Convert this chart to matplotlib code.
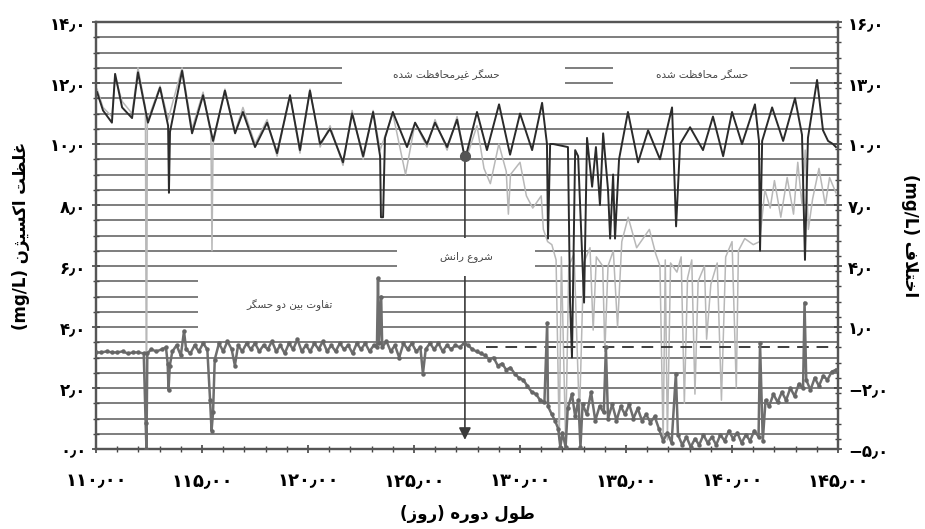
import matplotlib
matplotlib.use('Agg')
import matplotlib.pyplot as plt
from matplotlib.patches import Rectangle
from matplotlib.ticker import MultipleLocator, FixedLocator

# ---- data (days, mg/L) ----
# protected sensor (dark line, left axis)
protected_days = [110.05, 110.33, 110.75, 110.9, 111.23, 111.7, 111.98, 112.22, 112.45, 113.02,
                  113.4, 113.44, 113.49, 114.06, 114.53, 115.05, 115.52, 116.08, 116.56, 116.93,
                  117.5, 118.07, 118.54, 119.15, 119.62, 120.09, 120.57, 121.04, 121.65, 122.08,
                  122.6, 123.07, 123.4, 123.44, 123.54, 123.63, 124.0, 124.67, 125.05, 125.61,
                  125.99, 126.56, 127.03, 127.41, 127.97, 128.44, 129.01, 129.53, 130.0, 130.57,
                  131.04, 131.27, 131.32, 131.42, 131.56, 132.26, 132.36, 132.45, 132.6, 132.74,
                  133.02, 133.16, 133.4, 133.58, 133.77, 133.92, 134.15, 134.25, 134.39, 134.48,
                  134.67, 135.09, 135.57, 136.04, 136.6, 137.17, 137.36, 137.55, 138.02, 138.63,
                  139.1, 139.58, 140.0, 140.47, 141.08, 141.27, 141.32, 141.42, 141.89, 142.41,
                  142.97, 143.3, 143.44, 143.58, 144.01, 144.29, 144.53, 144.76, 144.9]
protected_vals = [11.7, 11.1, 10.7, 12.3, 11.2, 10.85, 12.35, 11.5, 10.7, 11.85,
                  10.6, 8.4, 10.4, 12.4, 10.35, 11.6, 10.1, 11.75, 10.35, 11.05,
                  9.9, 10.7, 9.7, 11.6, 9.8, 11.75, 10.0, 10.5, 9.4, 11.0,
                  9.6, 11.05, 9.6, 7.6, 7.6, 10.2, 11.05, 9.9, 10.7, 10.0,
                  10.7, 9.9, 10.8, 9.5, 11.05, 9.8, 11.3, 9.65, 11.0, 9.8,
                  11.35, 10.0, 6.9, 10.0, 10.0, 9.9, 4.8, 3.0, 9.8, 9.6,
                  4.8, 10.2, 8.6, 9.9, 8.0, 10.35, 8.5, 6.9, 9.0, 6.9,
                  9.5, 11.05, 9.4, 10.45, 9.5, 11.2, 7.3, 10.0, 10.55, 9.8,
                  10.9, 9.6, 11.05, 10.0, 11.3, 10.1, 6.5, 10.1, 11.2, 10.1,
                  11.5, 10.3, 6.2, 10.2, 12.1, 10.45, 10.1, 10.0, 9.9]

# unprotected sensor (light grey line, left axis)
unprot_days = [110.05, 110.33, 110.75, 110.9, 111.23, 111.7, 111.98, 112.22, 112.33, 112.38,
               112.42, 112.5, 113.02, 113.4, 114.06, 114.53, 115.05, 115.42, 115.47, 115.52,
               116.08, 116.56, 116.93, 117.5, 118.07, 118.54, 119.15, 119.62, 120.09, 120.57,
               121.04, 121.65, 122.08, 122.6, 123.07, 123.4, 124.0, 124.6, 125.05, 125.61,
               125.99, 126.56, 127.03, 127.41, 127.5, 127.97, 128.3, 128.6, 129.0, 129.35,
               129.45, 129.55, 130.0, 130.3, 130.6, 131.0, 131.1, 131.3, 131.5, 131.7,
               131.85, 131.95, 132.15, 132.3, 132.55, 132.8, 133.0, 133.3, 133.45, 133.6,
               133.9, 134.0, 134.15, 134.4, 134.6, 134.8, 135.1, 135.5, 135.8, 136.1,
               136.4, 136.6, 136.75, 136.85, 136.95, 137.1, 137.4, 137.6, 137.75, 137.9,
               138.1, 138.25, 138.4, 138.7, 138.8, 139.0, 139.3, 139.5, 139.7, 140.0,
               140.2, 140.3, 140.6, 141.0, 141.3, 141.55, 141.8, 142.0, 142.3, 142.6,
               142.9, 143.1, 143.3, 143.45, 143.6, 143.8, 144.1, 144.4, 144.6, 144.9]
unprot_vals = [11.8, 11.2, 10.9, 12.2, 11.4, 11.0, 12.5, 11.6, 11.2, 0.0,
               10.8, 10.9, 11.9, 10.8, 12.5, 10.5, 11.7, 10.3, 6.5, 10.0,
               11.8, 10.4, 11.2, 10.0, 10.8, 9.6, 11.6, 9.7, 11.8, 9.9,
               10.6, 9.3, 11.1, 9.5, 11.1, 9.8, 11.0, 9.0, 10.7, 9.9,
               10.8, 9.8, 10.9, 9.5, 9.6, 10.6, 9.2, 8.7, 10.0, 9.1,
               7.7, 9.0, 9.4, 8.3, 7.9, 8.3, 7.2, 6.8, 6.7, 6.2,
               0.3, 6.3, 0.2, 6.0, 6.4, 1.0, 6.1, 6.6, 3.9, 6.3,
               6.0, 3.2, 6.0, 6.5, 4.0, 6.8, 7.6, 6.6, 6.9, 7.2,
               6.4, 6.0, 0.2, 6.2, 0.3, 6.1, 5.8, 6.3, 1.5, 5.6,
               6.2, 1.8, 5.5, 6.0, 3.6, 5.4, 6.1, 1.6, 6.3, 6.8,
               2.0, 6.5, 6.9, 6.7, 6.8, 8.5, 7.9, 8.8, 7.6, 8.9,
               7.7, 9.4, 8.0, 9.8, 7.2, 8.2, 9.2, 8.0, 8.9, 8.4]

# difference between sensors (right axis)
diff_days = [110.0, 110.25, 110.5, 110.75, 111.0, 111.25, 111.5, 111.75, 112.0, 112.25,
             112.34, 112.38, 112.42, 112.6, 112.85, 113.1, 113.3, 113.38, 113.42, 113.48,
             113.6, 113.8, 114.0, 114.15, 114.25, 114.45, 114.65, 114.85, 115.05, 115.25,
             115.38, 115.45, 115.52, 115.6, 115.8, 116.0, 116.2, 116.4, 116.55, 116.7,
             116.9, 117.1, 117.3, 117.5, 117.7, 117.9, 118.1, 118.3, 118.5, 118.7,
             118.9, 119.1, 119.3, 119.5, 119.7, 119.9, 120.1, 120.3, 120.5, 120.7,
             120.9, 121.1, 121.3, 121.5, 121.7, 121.9, 122.1, 122.3, 122.5, 122.7,
             122.9, 123.1, 123.25, 123.3, 123.35, 123.45, 123.5, 123.7, 123.9, 124.1,
             124.3, 124.5, 124.7, 124.9, 125.1, 125.3, 125.42, 125.55, 125.75, 125.95,
             126.15, 126.35, 126.55, 126.75, 126.95, 127.15, 127.35, 127.55, 127.75, 127.95,
             128.15, 128.35, 128.55, 128.75, 128.95, 129.15, 129.35, 129.55, 129.75, 129.95,
             130.15, 130.35, 130.55, 130.75, 130.95, 131.15, 131.28, 131.32, 131.5, 131.65,
             131.8, 131.9, 132.0, 132.15, 132.25, 132.45, 132.6, 132.75, 132.85, 132.95,
             133.15, 133.35, 133.55, 133.75, 133.95, 134.05, 134.15, 134.35, 134.55, 134.75,
             134.95, 135.15, 135.35, 135.55, 135.75, 135.95, 136.15, 136.35, 136.55, 136.75,
             136.95, 137.15, 137.35, 137.45, 137.65, 137.85, 138.05, 138.25, 138.45, 138.65,
             138.85, 139.05, 139.25, 139.45, 139.65, 139.85, 140.05, 140.25, 140.45, 140.65,
             140.85, 141.05, 141.25, 141.32, 141.45, 141.58, 141.75, 141.95, 142.15, 142.35,
             142.55, 142.75, 142.95, 143.15, 143.35, 143.42, 143.5, 143.7, 143.9, 144.1,
             144.3, 144.5, 144.7, 144.9]
diff_vals = [-0.25, -0.25, -0.2, -0.25, -0.25, -0.2, -0.3, -0.25, -0.25, -0.3,
             -3.7, -5.0, -0.3, -0.1, -0.2, -0.1, 0.0, -0.8, -2.1, -0.9,
             -0.2, 0.1, -0.4, 0.8, -0.1, -0.3, 0.1, -0.2, 0.2, -0.1,
             -2.6, -4.1, -3.2, -0.6, 0.2, -0.2, 0.3, -0.1, -0.9, 0.1,
             -0.2, 0.2, -0.1, 0.2, -0.2, 0.1, -0.1, 0.3, -0.2, 0.1,
             -0.3, 0.2, -0.1, 0.4, -0.2, 0.1, -0.2, 0.2, -0.1, 0.3,
             -0.2, 0.1, -0.2, 0.2, -0.1, 0.1, -0.3, 0.2, -0.1, 0.2,
             -0.2, 0.1, 0.0, 3.4, 0.2, 2.5, 0.0, 0.3, -0.2, 0.1,
             -0.5, 0.2, -0.1, 0.2, -0.2, 0.0, -1.3, -0.1, 0.2, -0.1,
             0.2, -0.2, 0.1, -0.1, 0.1, 0.0, 0.2, 0.1, -0.1, -0.2,
             -0.3, -0.4, -0.6, -0.5, -0.9, -0.8, -1.1, -1.0, -1.3, -1.5,
             -1.6, -1.9, -2.2, -2.3, -2.6, -2.7, 1.2, -2.9, -3.3, -3.6,
             -4.0, -4.9, -4.2, -4.9, -3.0, -2.3, -3.4, -2.6, -4.9, -2.8,
             -3.3, -2.2, -3.6, -2.9, -3.2, 0.0, -3.5, -2.8, -3.6, -2.9,
             -3.3, -2.8, -3.5, -3.0, -3.6, -3.3, -3.7, -3.4, -4.0, -4.6,
             -4.2, -4.7, -1.3, -4.3, -4.8, -4.4, -4.9, -4.5, -4.8, -4.3,
             -4.7, -4.4, -4.8, -4.3, -4.6, -4.1, -4.5, -4.2, -4.7, -4.3,
             -4.6, -4.1, -4.4, 0.2, -4.6, -2.6, -2.9, -2.3, -2.7, -2.2,
             -2.6, -2.0, -2.4, -1.8, -2.0, 2.2, -1.6, -2.1, -1.5, -1.9,
             -1.4, -1.6, -1.2, -1.1]

left_ticks = [0, 2, 4, 6, 8, 10, 12, 14]
right_ticks = [-5, -2, 1, 4, 7, 10, 13, 16]
x_ticks = [110, 115, 120, 125, 130, 135, 140, 145]
drift_start = 127.4
drift_level = 9.6

# ---- simple persian shaping (matplotlib has no arabic shaping) ----
FORMS = {
    'ا': ('\ufe8d', '\ufe8e', None, None),
    'ب': ('\ufe8f', '\ufe90', '\ufe91', '\ufe92'),
    'ت': ('\ufe95', '\ufe96', '\ufe97', '\ufe98'),
    'ح': ('\ufea1', '\ufea2', '\ufea3', '\ufea4'),
    'خ': ('\ufea5', '\ufea6', '\ufea7', '\ufea8'),
    'د': ('\ufea9', '\ufeaa', None, None),
    'ر': ('\ufead', '\ufeae', None, None),
    'ز': ('\ufeaf', '\ufeb0', None, None),
    'ژ': ('\ufb8a', '\ufb8b', None, None),
    'س': ('\ufeb1', '\ufeb2', '\ufeb3', '\ufeb4'),
    'ش': ('\ufeb5', '\ufeb6', '\ufeb7', '\ufeb8'),
    'ط': ('\ufec1', '\ufec2', '\ufec3', '\ufec4'),
    'ظ': ('\ufec5', '\ufec6', '\ufec7', '\ufec8'),
    'ع': ('\ufec9', '\ufeca', '\ufecb', '\ufecc'),
    'غ': ('\ufecd', '\ufece', '\ufecf', '\ufed0'),
    'ف': ('\ufed1', '\ufed2', '\ufed3', '\ufed4'),
    'ک': ('\ufb8e', '\ufb8f', '\ufb90', '\ufb91'),
    'گ': ('\ufb92', '\ufb93', '\ufb94', '\ufb95'),
    'ل': ('\ufedd', '\ufede', '\ufedf', '\ufee0'),
    'م': ('\ufee1', '\ufee2', '\ufee3', '\ufee4'),
    'ن': ('\ufee5', '\ufee6', '\ufee7', '\ufee8'),
    'ه': ('\ufee9', '\ufeea', '\ufeeb', '\ufeec'),
    'و': ('\ufeed', '\ufeee', None, None),
    'ی': ('\ufbfc', '\ufbfd', '\ufbfe', '\ufbff'),
}


def fa(text):
    out = []
    i = 0
    while i < len(text):
        c = text[i]
        if c not in FORMS:
            out.append(c)
            i += 1
            continue
        prev = text[i - 1] if i > 0 else ''
        link_prev = prev in FORMS and FORMS[prev][2] is not None
        if c == 'ل' and i + 1 < len(text) and text[i + 1] == 'ا':
            out.append('\ufefc' if link_prev else '\ufefb')
            i += 2
            continue
        nxt = text[i + 1] if i + 1 < len(text) else ''
        link_next = FORMS[c][2] is not None and nxt in FORMS
        iso, fin, ini, med = FORMS[c]
        if link_prev and link_next:
            out.append(med)
        elif link_prev:
            out.append(fin)
        elif link_next:
            out.append(ini)
        else:
            out.append(iso)
        i += 1
    mirror = {'(': ')', ')': '('}
    return ''.join(mirror.get(ch, ch) for ch in reversed(out))


FA_DIGITS = str.maketrans('0123456789.-', '۰۱۲۳۴۵۶۷۸۹٫−')


def fa_num(v, nd):
    return f'{v:.{nd}f}'.translate(FA_DIGITS)


plt.rcParams['font.family'] = ['DejaVu Sans']

fig = plt.figure(figsize=(9.25, 5.29), dpi=100)
ax = fig.add_axes([0.1038, 0.1512, 0.8022, 0.8072])
ax2 = ax.twinx()

ax.set_xlim(110, 145)
ax.set_ylim(0, 14)
ax2.set_ylim(-5, 16)

# horizontal grid every 0.5 mg/L
ax.yaxis.set_major_locator(FixedLocator(left_ticks))
ax.yaxis.set_minor_locator(MultipleLocator(0.5))
ax.grid(True, which='both', axis='y', color='#5a5a5a', lw=1.1, zorder=0)
ax.set_axisbelow(True)

# white label boxes covering grid
for x0, x1, y0, y1 in [(121.6, 132.1, 11.67, 12.85), (134.4, 142.75, 11.67, 12.85),
                       (124.2, 130.7, 5.67, 6.92), (114.8, 123.25, 3.74, 5.74)]:
    ax.add_patch(Rectangle((x0, y0), x1 - x0, y1 - y0, facecolor='white',
                           edgecolor='none', zorder=2.5))

ax.plot(unprot_days, unprot_vals, color='#b8b8b8', lw=1.1, zorder=3)
ax.plot(protected_days, protected_vals, color='#2b2b2b', lw=1.4, zorder=3.2)

# drift start arrow
ax.annotate('', xy=(drift_start, 0.3), xytext=(drift_start, drift_level),
            arrowprops=dict(arrowstyle='-|>', color='#3a3a3a', lw=1.2,
                            mutation_scale=18, shrinkA=0, shrinkB=0), zorder=2)
ax.plot([drift_start], [drift_level], 'o', color='#555555', ms=7, zorder=3.5)

ax2.plot(diff_days, diff_vals, color='#6e6e6e', lw=1.8, marker='o', ms=2.2,
         mfc='#666666', mec='#666666', zorder=3)
ax2.plot([128.4, 145], [0, 0], color='#3c3c3c', lw=1.4, ls=(0, (6, 4)), zorder=2)

ax.text(126.5, 12.26, fa('حسگر غیرمحافظت شده'), ha='center', va='center',
        fontsize=7.5, color='#444444', zorder=4)
ax.text(138.6, 12.26, fa('حسگر محافظت شده'), ha='center', va='center',
        fontsize=7.5, color='#444444', zorder=4)
ax.text(127.45, 6.3, fa('شروع رانش'), ha='center', va='center',
        fontsize=7.5, color='#444444', zorder=4)
ax.text(119.15, 4.72, fa('تفاوت بین دو حسگر'), ha='center', va='center',
        fontsize=7.5, color='#444444', zorder=4)

# ticks
ax.set_xticks(x_ticks)
ax.set_xticklabels([fa_num(v, 2) for v in x_ticks], fontsize=13, fontweight='bold')
ax.xaxis.set_minor_locator(MultipleLocator(1))
ax.set_yticklabels([fa_num(v, 1) for v in left_ticks], fontsize=12, fontweight='bold')
ax2.set_yticks(right_ticks)
ax2.yaxis.set_minor_locator(MultipleLocator(0.75))
ax2.set_yticklabels([fa_num(v, 1) for v in right_ticks], fontsize=12, fontweight='bold')
for a in (ax, ax2):
    a.tick_params(which='major', direction='inout', length=6, width=1.2, color='#444444', pad=4)
    a.tick_params(which='minor', direction='inout', length=4, width=1.0, color='#444444')
    for s in a.spines.values():
        s.set_color('#555555')
        s.set_linewidth(1.6)
ax.tick_params(axis='x', pad=14)

ax.set_xlabel(fa('طول دوره (روز)'), fontsize=12, fontweight='bold', labelpad=10)
ax.set_ylabel('(mg/L) ' + fa('غلظت اکسیژن'), fontsize=12, fontweight='bold', labelpad=14)
ax2.set_ylabel('(mg/L) ' + fa('اختلاف'), fontsize=12, fontweight='bold',
               rotation=270, labelpad=22)

fig.savefig('out.png', dpi=100)
